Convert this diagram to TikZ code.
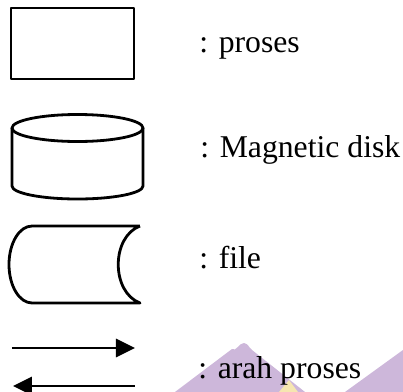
\documentclass[tikz,border=0pt]{standalone}
\usepackage{fontspec}
\setmainfont{Liberation Serif}
\usetikzlibrary{arrows.meta}
\definecolor{wmungu}{RGB}{205,183,218}
\definecolor{wkuning}{RGB}{246,230,176}
\tikzset{
  simbol/.style={black,line width=1.4pt,line join=round},
  panah/.style={black,line width=1.4pt,-{Triangle[length=9.5pt,width=9pt]}},
  ketstyle/.style={anchor=base west,inner sep=0pt,font=\fontsize{15.85}{19}\selectfont}
}
% label keterangan di kanan simbol
\newcommand{\ket}[3]{\node[ketstyle] (#1) at (#2) {: #3};}

\begin{document}
\begin{tikzpicture}[x=0.5pt,y=-0.5pt]
\useasboundingbox (0,0) rectangle (403,392);

% watermark
\fill[wmungu] (175,392) -- (232,349) to[out=-37,in=180] (244,343) to[out=-10,in=140] (252,350) -- (305,392) -- cycle;
\fill[wkuning] (279,392) -- (289,380) -- (298,392) -- cycle;
\fill[wmungu] (345,392) -- (403,350) -- (403,392) -- cycle;

% proses
\draw[simbol] (11,8) rectangle (134,79);
\ket{kproses}{199,52}{proses}

% magnetic disk
\draw[simbol] (77.5,128) ellipse [x radius=32.75pt,y radius=6.75pt];
\draw[simbol] (12,128) -- (12,186) arc (180:360:32.75pt and 6.5pt) -- (143,128);
\ket{kdisk}{200,157}{Magnetic disk}

% file
\draw[simbol] (140,226) -- (32,226) arc (90:270:11.5pt and 19.25pt) -- (140,303)
  .. controls (111,292) and (111,237) .. (140,226);
\ket{kfile}{199,268}{file}

% arah proses
\coordinate (a1) at (12,348);
\coordinate (b1) at (135,348);
\coordinate (a2) at (135,386);
\coordinate (b2) at (13,386);
\draw[panah] (a1) -- (b1);
\draw[panah] (a2) -- (b2);
\ket{karah}{198,378}{arah proses}
\end{tikzpicture}
\end{document}
